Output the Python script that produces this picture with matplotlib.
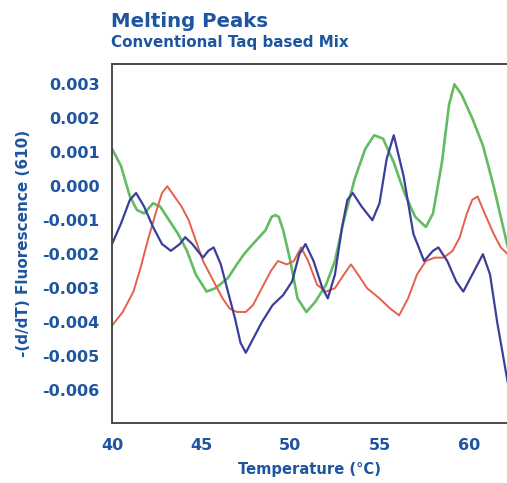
import matplotlib
matplotlib.use("Agg")
import matplotlib.pyplot as plt
import numpy as np

# Curves: temperature (deg C), -(d/dT) fluorescence
green_t = [40.0, 40.5, 41.0, 41.4, 41.8, 42.3, 42.7, 43.2, 43.7, 44.2, 44.7, 45.3,
           45.8, 46.5, 47.0, 47.4, 47.9, 48.6, 48.95, 49.15, 49.35, 49.6, 50.0, 50.4,
           50.9, 51.4, 52.0, 52.5, 53.0, 53.6, 54.2, 54.7, 55.2, 55.8, 56.4, 57.0,
           57.6, 58.0, 58.5, 58.9, 59.2, 59.6, 60.2, 60.8, 61.4, 62.2]
green_v = [0.0011, 0.0006, -0.0003, -0.0007, -0.0008, -0.0005, -0.0006, -0.0010,
           -0.0014, -0.0019, -0.0026, -0.0031, -0.0030, -0.0027, -0.0023, -0.0020,
           -0.0017, -0.0013, -0.0009, -0.00085, -0.0009, -0.0013, -0.0022, -0.0033,
           -0.0037, -0.0034, -0.0029, -0.0022, -0.0010, 0.0002, 0.0011, 0.0015,
           0.0014, 0.0007, -0.0002, -0.0009, -0.0012, -0.0008, 0.0007, 0.0024,
           0.0030, 0.0027, 0.0020, 0.0012, 0.0000, -0.0018]

blue_t = [40.0, 40.5, 41.0, 41.35, 41.8, 42.3, 42.8, 43.3, 43.8, 44.1, 44.5, 45.1,
          45.4, 45.7, 46.1, 46.5, 46.9, 47.2, 47.5, 47.9, 48.4, 49.0, 49.6, 50.1,
          50.5, 50.85, 51.3, 51.8, 52.1, 52.5, 52.9, 53.2, 53.5, 54.0, 54.6, 55.0,
          55.4, 55.8, 56.35, 56.9, 57.5, 58.0, 58.3, 58.8, 59.3, 59.7, 60.2, 60.8,
          61.2, 61.6, 62.2]
blue_v = [-0.0017, -0.0011, -0.0004, -0.0002, -0.0006, -0.0012, -0.0017, -0.0019,
          -0.0017, -0.0015, -0.0017, -0.0021, -0.0019, -0.0018, -0.0023, -0.0031,
          -0.0039, -0.0046, -0.0049, -0.0045, -0.0040, -0.0035, -0.0032, -0.0028,
          -0.0020, -0.0017, -0.0022, -0.0030, -0.0033, -0.0026, -0.0012, -0.0004,
          -0.0002, -0.0006, -0.0010, -0.0005, 0.0008, 0.0015, 0.0003, -0.0014,
          -0.0022, -0.0019, -0.0018, -0.0022, -0.0028, -0.0031, -0.0026, -0.0020,
          -0.0026, -0.0040, -0.0058]

red_t = [40.0, 40.6, 41.2, 41.6, 42.0, 42.5, 42.8, 43.1, 43.5, 43.9, 44.3, 44.7,
         45.1, 45.7, 46.2, 46.6, 47.0, 47.5, 47.9, 48.4, 48.9, 49.3, 49.8, 50.2,
         50.6, 51.0, 51.5, 52.0, 52.5, 53.0, 53.4, 53.8, 54.3, 55.0, 55.6, 56.1,
         56.6, 57.1, 57.6, 58.1, 58.6, 59.1, 59.5, 59.9, 60.2, 60.5, 60.9, 61.4,
         61.8, 62.2]
red_v = [-0.0041, -0.0037, -0.0031, -0.0024, -0.0016, -0.0007, -0.0002, 0.0000,
         -0.0003, -0.0006, -0.0010, -0.0016, -0.0022, -0.0028, -0.0033, -0.0036,
         -0.0037, -0.0037, -0.0035, -0.0030, -0.0025, -0.0022, -0.0023, -0.0022,
         -0.0018, -0.0022, -0.0029, -0.0031, -0.0030, -0.0026, -0.0023, -0.0026,
         -0.0030, -0.0033, -0.0036, -0.0038, -0.0033, -0.0026, -0.0022, -0.0021,
         -0.0021, -0.0019, -0.0015, -0.0008, -0.0004, -0.0003, -0.0008, -0.0014,
         -0.0018, -0.0020]

x_ticks = [40, 45, 50, 55, 60]
y_ticks = [0.003, 0.002, 0.001, 0.000, -0.001, -0.002, -0.003, -0.004, -0.005, -0.006]

TEXT = "#1d55a0"
plt.rcParams["font.family"] = ["DejaVu Sans"]

fig = plt.figure(figsize=(5.07, 4.83), dpi=100)
ax = fig.add_axes([0.221, 0.124, 0.779, 0.743])

ax.plot(green_t, green_v, color="#62bc62", lw=1.9, solid_capstyle="round")
ax.plot(red_t, red_v, color="#e5604b", lw=1.4, solid_capstyle="round")
ax.plot(blue_t, blue_v, color="#3b3e9a", lw=1.6, solid_capstyle="round")

ax.set_xlim(40, 62.15)
ax.set_ylim(-0.00697, 0.00359)
ax.set_xticks(x_ticks)
ax.set_yticks(y_ticks)
ax.set_yticklabels(["{:.3f}".format(v) for v in y_ticks])
ax.tick_params(length=0, labelsize=11.5, labelcolor=TEXT)
ax.tick_params(axis="y", pad=9)
ax.tick_params(axis="x", pad=11)
for lab in ax.get_xticklabels() + ax.get_yticklabels():
    lab.set_fontweight("bold")

for side in ["left", "top", "bottom"]:
    ax.spines[side].set_color("#4a4a4a")
    ax.spines[side].set_linewidth(1.4)
ax.spines["right"].set_visible(False)

ax.set_xlabel("Temperature (\u00b0C)", color=TEXT, fontsize=10.6, fontweight="bold",
              labelpad=6)
ax.set_ylabel("-(d/dT) Fluorescence (610)", color=TEXT, fontsize=11,
              fontweight="bold", labelpad=8)

fig.text(0.219, 0.945, "Melting Peaks", color=TEXT, fontsize=14.2, fontweight="bold")
fig.text(0.219, 0.903, "Conventional Taq based Mix", color=TEXT, fontsize=10.9,
         fontweight="bold")

fig.savefig("out.png", dpi=100)
